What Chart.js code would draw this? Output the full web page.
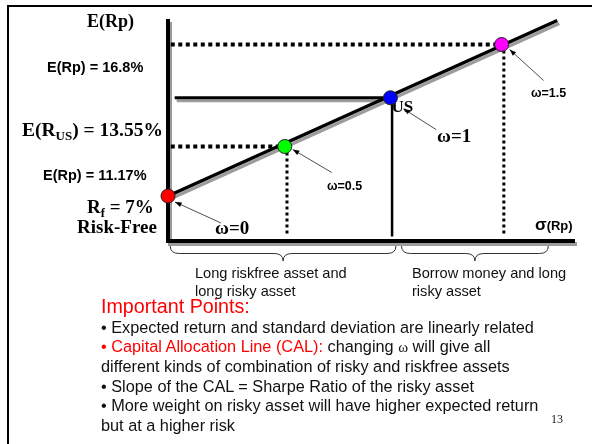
<!DOCTYPE html>
<html>
<head>
<meta charset="utf-8">
<script src="https://cdn.jsdelivr.net/npm/chart.js@4.4.1/dist/chart.umd.min.js"></script>
<style>
  body { margin: 0; width: 592px; height: 444px; overflow: hidden; background: #fff; font-family: "Liberation Sans", Arial, sans-serif; }
  #wrap { position: absolute; left: 0; top: 0; width: 592px; height: 444px; }
  .frame { position: absolute; left: 7px; top: 5px; width: 600px; height: 460px; border-left: 2px solid #000; border-top: 2px solid #000; }
  .t { position: absolute; white-space: nowrap; color: #111; }
  .red { color: #f00; }
  .omega { font-family: "Liberation Serif", "Times New Roman", serif; font-size: 15px; }
</style>
</head>
<body>
<div class="frame"></div>
<div id="wrap"><canvas id="calChart"></canvas></div>

<div class="t" style="left:195px; top:264px; font-size:14.6px; line-height:18px;">Long riskfree asset and<br>long risky asset</div>
<div class="t" style="left:412px; top:264px; font-size:14.6px; line-height:18px;">Borrow money and long<br>risky asset</div>
<div class="t red" style="left:101px; top:295.2px; font-size:19.7px; line-height:22px;">Important Points:</div>
<div class="t" style="left:101px; top:317.6px; font-size:16.3px; line-height:19.4px;">
  • Expected return and standard deviation are linearly related<br>
  <span class="red">• Capital Allocation Line (CAL):</span> changing <span class="omega">ω</span> will give all<br>
  different kinds of combination of risky and riskfree assets<br>
  • Slope of the CAL = Sharpe Ratio of the risky asset<br>
  • More weight on risky asset will have higher expected return<br>
  but at a higher risk
</div>
<div class="t" style="left:551px; top:412px; font-size:12px; line-height:14px; font-family:'Liberation Serif',serif;">13</div>

<script>
// portfolio weights on the risky asset (US) and where each lands on the CAL
const weights = [0, 0.5, 1, 1.5];
const sigmaPoints = [0, 10.5, 20, 30];
const returnPoints = [7, 10.3, 13.55, 17.1];

// the capital allocation line itself
const calSigma = [0, 35];
const calReturn = [7, 18.7];

// axis extents (no tick labels on this schematic)
const sigmaRange = [0, 36.6];
const returnRange = [4, 19];

// values quoted in the left-hand labels
const returnLabelValues = [16.8, 13.55, 11.17, 7];

// sigma ranges covered by the two braces under the x axis
const braceStart = [0.2, 21.0];
const braceEnd = [20.5, 34.2];

const SERIF = '"Liberation Serif", "Times New Roman", serif';
const SANS = '"Liberation Sans", Arial, sans-serif';

const pt = (x, y) => ({ x, y });

const shadowPlugin = {
  id: 'shadow',
  beforeDatasetDraw(chart, args) {
    if (!chart.data.datasets[args.index].shadow) return;
    const ctx = chart.ctx;
    ctx.save();
    ctx.shadowColor = '#9c9c9c';
    ctx.shadowOffsetX = 2;
    ctx.shadowOffsetY = 3;
    ctx.shadowBlur = 0;
  },
  afterDatasetDraw(chart, args) {
    if (chart.data.datasets[args.index].shadow) chart.ctx.restore();
  }
};

function drawRich(ctx, x, y, parts) {
  let cx = x;
  parts.forEach(p => {
    ctx.font = p.font;
    ctx.fillText(p.text, cx, y + (p.dy || 0));
    cx += ctx.measureText(p.text).width;
  });
}

function drawArrow(ctx, x1, y1, x2, y2) {
  const ang = Math.atan2(y2 - y1, x2 - x1);
  ctx.beginPath();
  ctx.moveTo(x1, y1);
  ctx.lineTo(x2, y2);
  ctx.stroke();
  ctx.beginPath();
  ctx.moveTo(x2, y2);
  ctx.lineTo(x2 - 7 * Math.cos(ang - 0.35), y2 - 7 * Math.sin(ang - 0.35));
  ctx.lineTo(x2 - 7 * Math.cos(ang + 0.35), y2 - 7 * Math.sin(ang + 0.35));
  ctx.closePath();
  ctx.fill();
}

function drawBrace(ctx, x1, x2, y0, h) {
  const xm = (x1 + x2) / 2, mid = y0 + h / 2, r = 9;
  ctx.beginPath();
  ctx.moveTo(x1, y0);
  ctx.quadraticCurveTo(x1, mid, x1 + r, mid);
  ctx.lineTo(xm - r, mid);
  ctx.quadraticCurveTo(xm, mid, xm, y0 + h);
  ctx.quadraticCurveTo(xm, mid, xm + r, mid);
  ctx.lineTo(x2 - r, mid);
  ctx.quadraticCurveTo(x2, mid, x2, y0);
  ctx.stroke();
}

// pixel offsets of each omega arrow (head, tail) from its point, and label spots
const arrowHeads = [[7, 6], [8, 3], [13, 11], [8, 5]];
const arrowTails = [[53, 27], [47, 26], [46, 32], [42, 36]];
const omegaLabels = [
  { x: 215, y: 234, font: 'bold 19px ' + SERIF },
  { x: 327, y: 190, font: 'bold 12.5px ' + SANS },
  { x: 437, y: 142, font: 'bold 19px ' + SERIF },
  { x: 531, y: 97, font: 'bold 12.5px ' + SANS }
];

const labelPlugin = {
  id: 'labels',
  beforeDatasetsDraw(chart) {
    const ctx = chart.ctx;
    const xs = chart.scales.x, ys = chart.scales.y;
    ctx.save();
    ctx.fillStyle = '#000';
    ctx.textBaseline = 'alphabetic';

    // axis titles
    ctx.font = 'bold 18px ' + SERIF;
    ctx.fillText('E(Rp)', 87, 27);
    drawRich(ctx, 535, 230, [
      { text: 'σ', font: 'bold 17px ' + SANS },
      { text: '(Rp)', font: 'bold 13px ' + SANS }
    ]);

    // return labels on the left
    ctx.font = 'bold 14.5px ' + SANS;
    ctx.fillText('E(Rp) = ' + returnLabelValues[0] + '%', 47, 72);
    drawRich(ctx, 22, 136, [
      { text: 'E(R', font: 'bold 19.5px ' + SERIF },
      { text: 'US', font: 'bold 13px ' + SERIF, dy: 4 },
      { text: ') = ' + returnLabelValues[1].toFixed(2) + '%', font: 'bold 19.5px ' + SERIF }
    ]);
    ctx.font = 'bold 14.5px ' + SANS;
    ctx.fillText('E(Rp) = ' + returnLabelValues[2] + '%', 43, 180);
    drawRich(ctx, 87, 213, [
      { text: 'R', font: 'bold 19px ' + SERIF },
      { text: 'f', font: 'bold 12.5px ' + SERIF, dy: 4 },
      { text: ' = ' + returnLabelValues[3] + '%', font: 'bold 19px ' + SERIF }
    ]);
    ctx.font = 'bold 19px ' + SERIF;
    ctx.fillText('Risk-Free', 77, 233);

    // the risky asset name, tucked under its marker
    ctx.font = 'bold 17px ' + SERIF;
    ctx.fillText('US', xs.getPixelForValue(sigmaPoints[2]) + 1, ys.getPixelForValue(returnPoints[2]) + 14);

    // omega labels and arrows
    ctx.lineWidth = 0.8;
    ctx.strokeStyle = '#222';
    ctx.fillStyle = '#000';
    weights.forEach((w, i) => {
      const px = xs.getPixelForValue(sigmaPoints[i]);
      const py = ys.getPixelForValue(returnPoints[i]);
      drawArrow(ctx, px + arrowTails[i][0], py + arrowTails[i][1], px + arrowHeads[i][0], py + arrowHeads[i][1]);
      ctx.font = omegaLabels[i].font;
      ctx.fillText('ω=' + w, omegaLabels[i].x, omegaLabels[i].y);
    });

    // braces under the x axis
    ctx.lineWidth = 1;
    ctx.strokeStyle = '#333';
    const base = ys.getPixelForValue(returnRange[0]);
    braceStart.forEach((s, i) => {
      drawBrace(ctx, xs.getPixelForValue(s), xs.getPixelForValue(braceEnd[i]), base + 5, 15);
    });
    ctx.restore();
  }
};

const ctx = document.getElementById('calChart');
new Chart(ctx, {
  type: 'scatter',
  data: {
    datasets: [
      {
        label: 'Portfolios',
        data: sigmaPoints.map((s, i) => pt(s, returnPoints[i])),
        showLine: false,
        pointRadius: 7,
        pointBackgroundColor: ['#ff0000', '#00ff00', '#0000ff', '#ff00ff'],
        pointBorderColor: '#222',
        pointBorderWidth: 1,
        clip: false
      },
      {
        label: 'CAL',
        data: calSigma.map((s, i) => pt(s, calReturn[i])),
        showLine: true,
        borderColor: '#000',
        borderWidth: 3.5,
        pointRadius: 0,
        shadow: true,
        clip: false
      },
      {
        label: 'US level',
        data: [pt(sigmaRange[0] + 0.6, returnPoints[2]), pt(sigmaPoints[2], returnPoints[2])],
        showLine: true,
        borderColor: '#000',
        borderWidth: 3,
        pointRadius: 0,
        shadow: true,
        clip: false
      },
      {
        label: 'US sigma',
        data: [pt(sigmaPoints[2] + 0.15, returnPoints[2]), pt(sigmaPoints[2] + 0.15, returnRange[0] + 0.3)],
        showLine: true,
        borderColor: '#000',
        borderWidth: 2.5,
        pointRadius: 0,
        clip: false
      },
      ...[1, 3].flatMap(i => [
        {
          label: 'level ' + weights[i],
          data: [pt(sigmaRange[0] + 0.25, returnPoints[i]), pt(sigmaPoints[i], returnPoints[i])],
          showLine: true,
          borderColor: '#000',
          borderWidth: 4,
          borderDash: [4, 3.5],
          pointRadius: 0,
          clip: false
        },
        {
          label: 'sigma ' + weights[i],
          data: [pt(sigmaPoints[i] + 0.2, returnPoints[i]), pt(sigmaPoints[i] + 0.2, returnRange[0] + 0.3)],
          showLine: true,
          borderColor: '#000',
          borderWidth: 3,
          borderDash: [3, 3],
          pointRadius: 0,
          clip: false
        }
      ]),
      {
        label: 'Axes',
        data: [pt(sigmaRange[0], 18.8), pt(sigmaRange[0], returnRange[0]), pt(sigmaRange[1], returnRange[0])],
        showLine: true,
        borderColor: '#000',
        borderWidth: 4,
        borderJoinStyle: 'miter',
        pointRadius: 0,
        shadow: true,
        clip: false
      }
    ]
  },
  options: {
    responsive: true,
    maintainAspectRatio: false,
    animation: false,
    layout: { padding: { left: 168, right: 17, top: 16, bottom: 203 } },
    plugins: {
      legend: { display: false },
      tooltip: { enabled: false }
    },
    scales: {
      x: { type: 'linear', display: false, min: sigmaRange[0], max: sigmaRange[1] },
      y: { type: 'linear', display: false, min: returnRange[0], max: returnRange[1] }
    }
  },
  plugins: [shadowPlugin, labelPlugin]
});
</script>
</body>
</html>
